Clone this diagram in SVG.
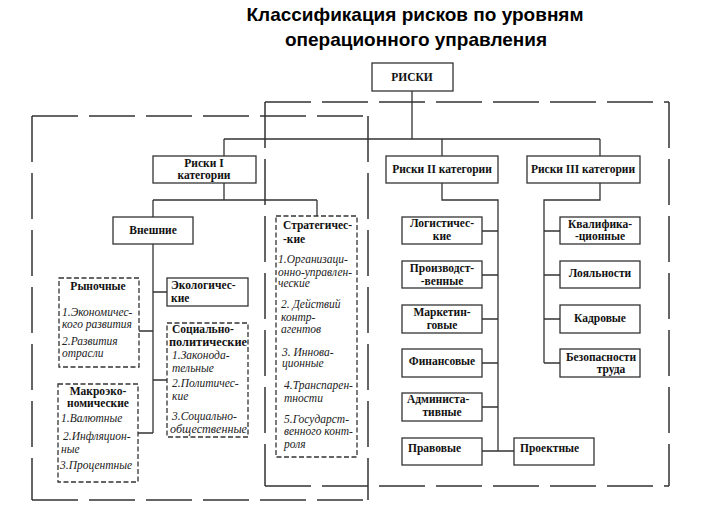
<svg xmlns="http://www.w3.org/2000/svg" width="713" height="508" viewBox="0 0 713 508">
<style>
.box{fill:#fff;stroke:#333;stroke-width:1.3}
.dbox{fill:#fff;stroke:#333;stroke-width:1.3;stroke-dasharray:5 2.5}
.frame{fill:none;stroke:#333;stroke-width:1.5;stroke-dasharray:46 11}
.conn{fill:none;stroke:#333;stroke-width:1.3}
.b{font-family:"Liberation Serif","Times New Roman",serif;font-weight:bold;font-size:11.5px;fill:#111}
.i{font-family:"Liberation Serif","Times New Roman",serif;font-style:italic;font-size:11.5px;fill:#222}
.t{font-family:"Liberation Sans",Arial,sans-serif;font-weight:bold;font-size:19px;fill:#000}
.c{text-anchor:middle}
</style>
<rect width="713" height="508" fill="#fff"/>
<g id="title">
<text class="t c" x="415" y="21">Классификация рисков по уровням</text>
<text class="t c" x="416" y="46">операционного управления</text>
</g>
<g id="frames">
<path class="frame" d="M32,116 H368"/>
<path class="frame" d="M32,116 V500"/>
<path class="frame" d="M32,500 H368"/>
<path class="frame" d="M368,116 V500"/>
<path class="frame" d="M265,102 H669"/>
<path class="frame" d="M265,102 V486"/>
<path class="frame" d="M265,486 H669"/>
<path class="frame" d="M669,102 V486"/>
</g>
<g id="connectors">
<path class="conn" d="M412,91 V139 M224,139 H600 M224,139 V156 M442,139 V156 M600,139 V156"/>
<path class="conn" d="M224,183 V200 M153,200 H317 M153,200 V217 M317,200 V216"/>
<path class="conn" d="M153,244 V433 M139,331 H153 M153,292 H167 M153,380 H167 M138,433 H153"/>
<path class="conn" d="M442,183 V200 H498 V451 M482,231 H498 M482,275 H498 M482,319 H498 M482,363 H498 M482,407 H498 M482,451 H514"/>
<path class="conn" d="M600,183 V200 H544 V363 M544,231 H560 M544,275 H560 M544,319 H560 M544,363 H560"/>
</g>
<g id="riski">
<rect class="box" x="372" y="63" width="81" height="28"/>
<text class="b c" x="412" y="81">РИСКИ</text>
</g>
<g id="riski1">
<rect class="box" x="153" y="156" width="103" height="27"/>
<text class="b c" x="204" y="167">Риски I</text>
<text class="b c" x="204" y="179">категории</text>
</g>
<g id="riski2">
<rect class="box" x="386" y="156" width="112" height="27"/>
<text class="b c" x="442" y="173">Риски II категории</text>
</g>
<g id="riski3">
<rect class="box" x="527" y="156" width="113" height="27"/>
<text class="b c" x="583" y="173">Риски III категории</text>
</g>
<g id="vneshnie">
<rect class="box" x="113" y="217" width="80" height="27"/>
<text class="b c" x="153" y="234">Внешние</text>
</g>
<g id="rynochnye">
<rect class="dbox" x="59" y="278" width="80" height="89"/>
<text class="b c" x="98" y="290">Рыночные</text>
<text class="i" x="62" y="316">1.Экономичес-</text>
<text class="i" x="62" y="328">кого развития</text>
<text class="i" x="62" y="345">2.Развития</text>
<text class="i" x="62" y="357">отрасли</text>
</g>
<g id="makro">
<rect class="dbox" x="58" y="384" width="80" height="98"/>
<text class="b c" x="98" y="395">Макроэко-</text>
<text class="b c" x="98" y="407">номические</text>
<text class="i" x="61" y="422">1.Валютные</text>
<text class="i" x="63" y="440">2.Инфляцион-</text>
<text class="i" x="61" y="453">ные</text>
<text class="i" x="60" y="469">3.Процентные</text>
</g>
<g id="ekolog">
<rect class="box" x="167" y="278" width="81" height="28"/>
<text class="b" x="171" y="289">Экологичес-</text>
<text class="b" x="171" y="302">кие</text>
</g>
<g id="socpol">
<rect class="dbox" x="167" y="323" width="81" height="114"/>
<text class="b" x="172" y="333">Социально-</text>
<text class="b" x="169" y="346" textLength="78" lengthAdjust="spacingAndGlyphs">политические</text>
<text class="i" x="172" y="359">1.Законода-</text>
<text class="i" x="172" y="372">тельные</text>
<text class="i" x="172" y="387">2.Политичес-</text>
<text class="i" x="172" y="400">кие</text>
<text class="i" x="172" y="420">3.Социально-</text>
<text class="i" x="170" y="433" textLength="77" lengthAdjust="spacingAndGlyphs">общественные</text>
</g>
<g id="strateg">
<rect class="dbox" x="276" y="216" width="81" height="241"/>
<text class="b" x="283" y="229">Стратегичес-</text>
<text class="b" x="283" y="243">-кие</text>
<text class="i" x="278" y="263">1.Организаци-</text>
<text class="i" x="278" y="276">онно-управлен-</text>
<text class="i" x="278" y="287">ческие</text>
<text class="i" x="281" y="308">2. Действий</text>
<text class="i" x="281" y="321">контр-</text>
<text class="i" x="281" y="333">агентов</text>
<text class="i" x="282" y="356">3. Иннова-</text>
<text class="i" x="282" y="367">ционные</text>
<text class="i" x="284" y="389">4.Транспарен-</text>
<text class="i" x="284" y="402">тности</text>
<text class="i" x="284" y="423">5.Государст-</text>
<text class="i" x="284" y="435">венного конт-</text>
<text class="i" x="284" y="448">роля</text>
</g>
<g id="logist">
<rect class="box" x="402" y="217" width="80" height="27"/>
<text class="b c" x="442" y="227">Логистичес-</text>
<text class="b c" x="442" y="240">кие</text>
</g>
<g id="proizv">
<rect class="box" x="402" y="261" width="80" height="27"/>
<text class="b c" x="442" y="272">Производст-</text>
<text class="b c" x="442" y="285">-венные</text>
</g>
<g id="market">
<rect class="box" x="402" y="305" width="80" height="28"/>
<text class="b c" x="442" y="316">Маркетин-</text>
<text class="b c" x="442" y="329">говые</text>
</g>
<g id="finans">
<rect class="box" x="402" y="349" width="80" height="28"/>
<text class="b c" x="442" y="365">Финансовые</text>
</g>
<g id="admin">
<rect class="box" x="402" y="393" width="80" height="28"/>
<text class="b" x="407" y="403">Администа-</text>
<text class="b c" x="442" y="416">тивные</text>
</g>
<g id="pravovye">
<rect class="box" x="402" y="438" width="80" height="27"/>
<text class="b" x="408" y="452">Правовые</text>
</g>
<g id="proektnye">
<rect class="box" x="514" y="438" width="80" height="27"/>
<text class="b" x="520" y="452">Проектные</text>
</g>
<g id="kvalif">
<rect class="box" x="560" y="217" width="80" height="27"/>
<text class="b c" x="600" y="228">Квалифика-</text>
<text class="b c" x="600" y="240">-ционные</text>
</g>
<g id="loyal">
<rect class="box" x="560" y="261" width="80" height="27"/>
<text class="b c" x="600" y="277">Лояльности</text>
</g>
<g id="kadr">
<rect class="box" x="560" y="305" width="80" height="28"/>
<text class="b c" x="600" y="322">Кадровые</text>
</g>
<g id="bezop">
<rect class="box" x="560" y="349" width="80" height="28"/>
<text class="b c" x="601" y="361">Безопасности</text>
<text class="b c" x="611" y="373">труда</text>
</g>
</svg>
